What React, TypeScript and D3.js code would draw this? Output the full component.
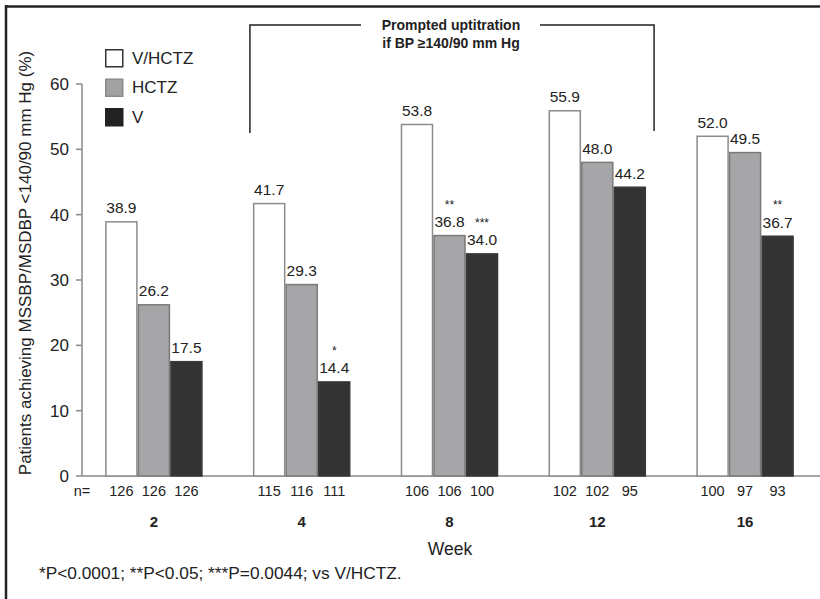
import React from "react";
import * as d3 from "d3";

// chart values
const weeks = ["2", "4", "8", "12", "16"];
const seriesNames = ["V/HCTZ", "HCTZ", "V"];
const vhctzValues = [38.9, 41.7, 53.8, 55.9, 52.0];
const hctzValues = [26.2, 29.3, 36.8, 48.0, 49.5];
const vValues = [17.5, 14.4, 34.0, 44.2, 36.7];
const vhctzN = [126, 115, 106, 102, 100];
const hctzN = [126, 116, 106, 102, 97];
const vN = [126, 111, 100, 95, 93];
const hctzStars = ["", "", "**", "", ""];
const vStars = ["", "*", "***", "", "**"];
const yTicks = [0, 10, 20, 30, 40, 50, 60];

const fills = ["#ffffff", "#a6a6a8", "#333333"];
const strokes = ["#8c8c8c", "#7a7a7a", "#3a3a3a"];
const legendFills = ["#ffffff", "#a2a2a2", "#222222"];
const legendStrokes = ["#333333", "#8a8a8a", "#222222"];

const font = "'Liberation Sans', Arial, Helvetica, sans-serif";

export default function App() {
  const width = 820;
  const height = 599;
  const axisX = 82;

  const x0 = d3.scaleBand<string>()
    .domain(weeks)
    .range([80, 819])
    .paddingInner(0.34)
    .paddingOuter(0.17);
  const x1 = d3.scaleBand<string>()
    .domain(seriesNames)
    .range([0, x0.bandwidth()]);
  const y = d3.scaleLinear().domain([0, 60]).range([476, 84]);

  const values = [vhctzValues, hctzValues, vValues];
  const counts = [vhctzN, hctzN, vN];
  const stars = [weeks.map(() => ""), hctzStars, vStars];

  const bars = weeks.flatMap((w, i) =>
    seriesNames.map((s, j) => ({
      week: w,
      series: s,
      j,
      value: values[j][i],
      n: counts[j][i],
      star: stars[j][i],
    }))
  );

  const bracketLeft = (x0("4") as number) - 3;
  const bracketRight = (x0("12") as number) + x0.bandwidth() + 8;

  return (
    <svg
      width={width}
      height={height}
      style={{ position: "absolute", left: 0, top: 0, background: "#fff" }}
      fontFamily={font}
    >
      {/* frame */}
      <line x1={5} x2={width} y1={6.5} y2={6.5} stroke="#222" strokeWidth={2.5} />
      <line x1={6} x2={6} y1={5} y2={height} stroke="#222" strokeWidth={2.5} />

      {/* uptitration bracket */}
      <g stroke="#222" strokeWidth={1.5} fill="none">
        <polyline points={`${bracketLeft},133 ${bracketLeft},25 361,25`} />
        <polyline points={`540,25 ${bracketRight},25 ${bracketRight},131`} />
      </g>
      <text x={451} y={30} textAnchor="middle" fontSize={14} fontWeight="bold" fill="#222">
        Prompted uptitration
      </text>
      <text x={451} y={48} textAnchor="middle" fontSize={14} fontWeight="bold" fill="#222">
        if BP ≥140/90 mm Hg
      </text>

      {/* y axis */}
      <line x1={axisX} x2={axisX} y1={y(60)} y2={y(0)} stroke="#8a8a8a" strokeWidth={1.5} />
      <line x1={axisX} x2={width} y1={y(0)} y2={y(0)} stroke="#8a8a8a" strokeWidth={1.5} />
      {yTicks.map((t) => (
        <g key={t}>
          <line x1={axisX - 6} x2={axisX} y1={y(t)} y2={y(t)} stroke="#8a8a8a" strokeWidth={1.5} />
          <text x={axisX - 13} y={y(t)} dy="0.35em" textAnchor="end" fontSize={17} fill="#222">
            {t}
          </text>
        </g>
      ))}
      <text
        transform={`translate(25, 263) rotate(-90)`}
        textAnchor="middle"
        dy="0.35em"
        fontSize={17}
        fill="#222"
      >
        Patients achieving MSSBP/MSDBP &lt;140/90 mm Hg (%)
      </text>

      {/* bars */}
      {bars.map((d) => {
        const bx = (x0(d.week) as number) + (x1(d.series) as number);
        const bw = x1.bandwidth();
        const top = y(d.value);
        const cx = bx + bw / 2;
        return (
          <g key={d.week + d.series}>
            <rect
              x={bx + 0.75}
              y={top}
              width={bw - 1.5}
              height={y(0) - top}
              fill={fills[d.j]}
              stroke={strokes[d.j]}
              strokeWidth={1.5}
            />
            <text x={cx} y={top - 8.5} textAnchor="middle" fontSize={15.5} fill="#222">
              {d.value.toFixed(1)}
            </text>
            {d.star && (
              <text x={cx} y={top - 27} textAnchor="middle" fontSize={12} fill="#222">
                {d.star}
              </text>
            )}
            <text x={cx} y={491} dy="0.35em" textAnchor="middle" fontSize={14.5} fill="#222">
              {d.n}
            </text>
          </g>
        );
      })}
      <text x={82} y={491} dy="0.35em" textAnchor="middle" fontSize={14.5} fill="#222">
        n=
      </text>

      {/* week labels */}
      {weeks.map((w) => (
        <text
          key={w}
          x={(x0(w) as number) + x0.bandwidth() / 2}
          y={522}
          dy="0.35em"
          textAnchor="middle"
          fontSize={15}
          fontWeight="bold"
          fill="#222"
        >
          {w}
        </text>
      ))}
      <text x={450} y={549} dy="0.35em" textAnchor="middle" fontSize={17.5} fill="#222">
        Week
      </text>

      {/* legend */}
      {seriesNames.map((s, i) => (
        <g key={s} transform={`translate(105, ${49 + i * 29.5})`}>
          <rect
            x={0.75}
            y={0.75}
            width={17}
            height={17}
            fill={legendFills[i]}
            stroke={legendStrokes[i]}
            strokeWidth={1.5}
          />
          <text x={27} y={9} dy="0.35em" fontSize={17} fill="#222">
            {s}
          </text>
        </g>
      ))}

      <text x={39} y={573} dy="0.35em" fontSize={17.3} fill="#222">
        *P&lt;0.0001; **P&lt;0.05; ***P=0.0044; vs V/HCTZ.
      </text>
    </svg>
  );
}
